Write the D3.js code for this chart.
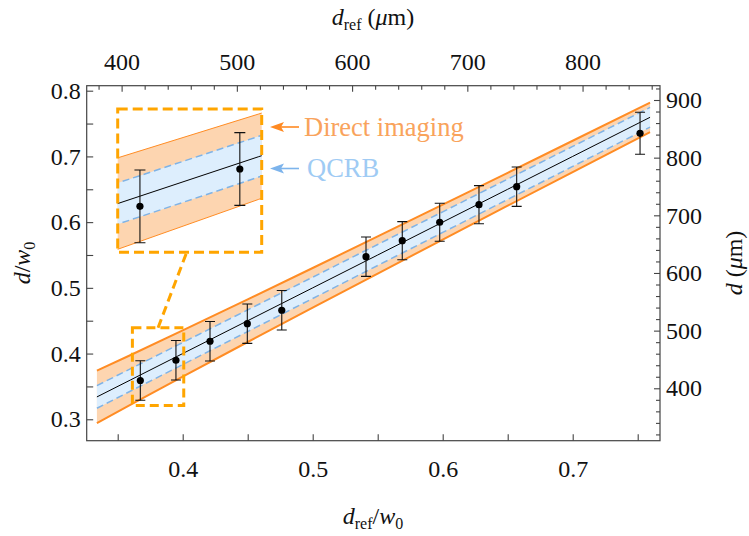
<!DOCTYPE html>
<html><head><meta charset="utf-8">
<script src="https://cdn.jsdelivr.net/npm/d3@7/dist/d3.min.js"></script>
<style>
body{margin:0;background:#fff}
svg{display:block}
svg text{font-family:'Liberation Serif','DejaVu Serif','Noto Serif',serif;fill:#111}
</style>
</head><body>
<svg id="c" width="749" height="536"></svg>
<script>
// ---- data ----
const dRefOverW0 = [0.3674, 0.3948, 0.4210, 0.4497, 0.4762, 0.5410, 0.5689, 0.5977, 0.6279, 0.6569, 0.7518];
const dOverW0    = [0.3590, 0.3898, 0.4187, 0.4455, 0.4659, 0.5474, 0.5718, 0.5998, 0.6265, 0.6539, 0.7352];
const errD       = [0.030, 0.030, 0.030, 0.030, 0.030, 0.030, 0.029, 0.029, 0.029, 0.030, 0.032];

const bandX      = [0.334, 0.36, 0.40, 0.45, 0.50, 0.55, 0.60, 0.65, 0.70, 0.7595];
const directHalf = [0.040, 0.0378, 0.0352, 0.0324, 0.0302, 0.0283, 0.0265, 0.0250, 0.0238, 0.0224];
const qcrbHalf   = [0.0172, 0.0170, 0.0168, 0.0165, 0.0162, 0.0160, 0.0157, 0.0155, 0.0152, 0.0150];

const bottomTicks = [0.35, 0.4, 0.45, 0.5, 0.55, 0.6, 0.65, 0.7, 0.75];
const bottomLabels = [0.4, 0.5, 0.6, 0.7];
const leftTicks = [0.3, 0.35, 0.4, 0.45, 0.5, 0.55, 0.6, 0.65, 0.7, 0.75, 0.8];
const leftLabels = [0.3, 0.4, 0.5, 0.6, 0.7, 0.8];
const topLabels = [400, 500, 600, 700, 800];
const rightLabels = [400, 500, 600, 700, 800, 900];
const insetXRange = [0.3613, 0.4008];
const insetYRange = [0.3211, 0.4393];
const legendNames = ["Direct imaging", "QCRB"];

// ---- layout ----
const FONT = "'Liberation Serif','DejaVu Serif','Noto Serif',serif";
const L = 86.7, R = 660, T = 85.7, B = 440.7;
const svg = d3.select("#c");
const x = d3.scaleLinear().domain([0.32615, 0.76715]).range([L, R]);
const y = d3.scaleLinear().domain([0.2674, 0.8076]).range([B, T]);
const xTop = d3.scaleLinear().domain([369.7, 867.2]).range([L, R]);
const yRight = d3.scaleLinear().domain([309.1, 924.8]).range([B, T]);

const ORANGE_EDGE = "#ff8c24", ORANGE_FILL = "#fdd5b0";
const BLUE_FILL = "#ddeefd", BLUE_LINE = "#7fb3e6";
const BOX = "#ffa500";

const band = bandX.map((bx, i) => ({x: bx, dh: directHalf[i], qh: qcrbHalf[i]}));
const pts = dRefOverW0.map((v, i) => ({x: v, y: dOverW0[i], e: errD[i]}));

const defs = svg.append("defs");
defs.append("clipPath").attr("id", "clipMain").append("rect")
  .attr("x", L).attr("y", T).attr("width", R - L).attr("height", B - T);

function drawPanel(g, sx, sy, edgeW, capHalf, rad) {
  g.append("path").datum(band)
    .attr("d", d3.area().x(d => sx(d.x)).y0(d => sy(d.x - d.dh)).y1(d => sy(d.x + d.dh)))
    .attr("fill", ORANGE_FILL);
  g.append("path").datum(band)
    .attr("d", d3.area().x(d => sx(d.x)).y0(d => sy(d.x - d.qh)).y1(d => sy(d.x + d.qh)))
    .attr("fill", BLUE_FILL);
  [1, -1].forEach(s => {
    g.append("path").datum(band)
      .attr("d", d3.line().x(d => sx(d.x)).y(d => sy(d.x + s * d.dh)))
      .attr("fill", "none").attr("stroke", ORANGE_EDGE).attr("stroke-width", edgeW);
    g.append("path").datum(band)
      .attr("d", d3.line().x(d => sx(d.x)).y(d => sy(d.x + s * d.qh)))
      .attr("fill", "none").attr("stroke", BLUE_LINE).attr("stroke-width", 1.5)
      .attr("stroke-dasharray", "7,4");
  });
  g.append("path").datum(band)
    .attr("d", d3.line().x(d => sx(d.x)).y(d => sy(d.x)))
    .attr("fill", "none").attr("stroke", "#000").attr("stroke-width", 1);
  const eb = g.append("g").attr("stroke", "#111").attr("stroke-width", 1.1);
  pts.forEach(p => {
    const cx = sx(p.x);
    eb.append("line").attr("x1", cx).attr("x2", cx).attr("y1", sy(p.y - p.e)).attr("y2", sy(p.y + p.e));
    eb.append("line").attr("x1", cx - capHalf).attr("x2", cx + capHalf).attr("y1", sy(p.y + p.e)).attr("y2", sy(p.y + p.e));
    eb.append("line").attr("x1", cx - capHalf).attr("x2", cx + capHalf).attr("y1", sy(p.y - p.e)).attr("y2", sy(p.y - p.e));
  });
  g.selectAll("circle.pt").data(pts).enter().append("circle")
    .attr("cx", d => sx(d.x)).attr("cy", d => sy(d.y)).attr("r", rad).attr("fill", "#000");
}

// main panel
drawPanel(svg.append("g").attr("clip-path", "url(#clipMain)"), x, y, 2, 5, 3.6);

// ---- axes ----
const FS = 24;
function styleAxis(g) {
  g.attr("font-family", FONT).attr("font-size", FS);
  g.select(".domain").remove();
  g.selectAll(".tick line").attr("stroke", "#444").attr("stroke-width", 1.1);
  g.selectAll(".tick text").attr("font-size", FS).attr("fill", "#111").attr("font-family", FONT);
}
const fmt1 = d => bottomLabels.some(v => Math.abs(v - d) < 1e-9) ? d3.format(".1f")(d) : "";
const gB = svg.append("g").attr("transform", `translate(0,${B})`)
  .call(d3.axisBottom(x).tickValues(bottomTicks).tickSize(-6.5).tickPadding(19).tickFormat(fmt1));
styleAxis(gB);
const gL = svg.append("g").attr("transform", `translate(${L},0)`)
  .call(d3.axisLeft(y).tickValues(leftTicks).tickSize(-6.5).tickPadding(6)
    .tickFormat(d => leftLabels.some(v => Math.abs(v - d) < 1e-9) ? d3.format(".1f")(d) : ""));
styleAxis(gL);

const topMinor = d3.range(380, 861, 20).filter(v => v % 100 !== 0);
const gTm = svg.append("g").attr("transform", `translate(0,${T})`)
  .call(d3.axisTop(xTop).tickValues(topMinor).tickSize(-4).tickFormat(""));
styleAxis(gTm);
const gT = svg.append("g").attr("transform", `translate(0,${T})`)
  .call(d3.axisTop(xTop).tickValues(topLabels).tickSize(-6).tickPadding(16).tickFormat(d3.format("d")));
styleAxis(gT);

const rightMinor = d3.range(320, 921, 20).filter(v => v % 100 !== 0);
const gRm = svg.append("g").attr("transform", `translate(${R},0)`)
  .call(d3.axisRight(yRight).tickValues(rightMinor).tickSize(-4).tickFormat(""));
styleAxis(gRm);
const gR = svg.append("g").attr("transform", `translate(${R},0)`)
  .call(d3.axisRight(yRight).tickValues(rightLabels).tickSize(-6).tickPadding(6).tickFormat(d3.format("d")));
styleAxis(gR);

svg.append("rect").attr("x", L).attr("y", T).attr("width", R - L).attr("height", B - T)
  .attr("fill", "none").attr("stroke", "#444").attr("stroke-width", 1.2);

// ---- axis titles ----
function subLabel(sel, parts) {
  sel.attr("font-family", FONT);
  parts.forEach(p => {
    const t = sel.append("tspan").text(p.t);
    if (p.i) t.attr("font-style", "italic");
    if (p.sub) t.attr("font-size", 16).attr("dy", p.dy);
    else if (p.dy) t.attr("dy", p.dy);
  });
}
subLabel(svg.append("text").attr("x", 373).attr("y", 524).attr("text-anchor", "middle").attr("font-size", FS),
  [{t: "d", i: true}, {t: "ref", sub: true, dy: 5}, {t: "/", dy: -5}, {t: "w", i: true}, {t: "0", sub: true, dy: 5}]);
subLabel(svg.append("text").attr("x", 373).attr("y", 25).attr("text-anchor", "middle").attr("font-size", FS),
  [{t: "d", i: true}, {t: "ref", sub: true, dy: 5}, {t: " (", dy: -5}, {t: "μ", i: true}, {t: "m)"}]);
subLabel(svg.append("text").attr("transform", "translate(30,263) rotate(-90)").attr("text-anchor", "middle").attr("font-size", FS),
  [{t: "d", i: true}, {t: "/"}, {t: "w", i: true}, {t: "0", sub: true, dy: 5}]);
subLabel(svg.append("text").attr("transform", "translate(742,263) rotate(-90)").attr("text-anchor", "middle").attr("font-size", FS),
  [{t: "d", i: true}, {t: " ("}, {t: "μ", i: true}, {t: "m)"}]);

// ---- inset ----
const IX0 = 117.7, IX1 = 261.7, IY0 = 109, IY1 = 252.3;
const xi = d3.scaleLinear().domain(insetXRange).range([IX0, IX1]);
const yi = d3.scaleLinear().domain(insetYRange).range([IY1, IY0]);
defs.append("clipPath").attr("id", "clipInset").append("rect")
  .attr("x", IX0).attr("y", IY0).attr("width", IX1 - IX0).attr("height", IY1 - IY0);
drawPanel(svg.append("g").attr("clip-path", "url(#clipInset)"), xi, yi, 1, 5.5, 3.6);

// zoom box on main plot
const bx0 = x(insetXRange[0]), bx1 = x(insetXRange[1]), by0 = y(insetYRange[1]), by1 = y(insetYRange[0]);
svg.append("rect").attr("x", bx0).attr("y", by0).attr("width", bx1 - bx0).attr("height", by1 - by0)
  .attr("fill", "none").attr("stroke", BOX).attr("stroke-width", 3).attr("stroke-dasharray", "9,5");
svg.append("line").attr("x1", (bx0 + bx1) / 2).attr("y1", by0).attr("x2", (IX0 + IX1) / 2 - 3).attr("y2", IY1)
  .attr("stroke", BOX).attr("stroke-width", 3).attr("stroke-dasharray", "9,5");
svg.append("rect").attr("x", IX0).attr("y", IY0).attr("width", IX1 - IX0).attr("height", IY1 - IY0)
  .attr("fill", "none").attr("stroke", BOX).attr("stroke-width", 3).attr("stroke-dasharray", "10,5");

// ---- annotations ----
function arrow(yy, col) {
  svg.append("line").attr("x1", 299).attr("x2", 280).attr("y1", yy).attr("y2", yy)
    .attr("stroke", col).attr("stroke-width", 1.6);
  svg.append("path").attr("d", `M270,${yy} L284,${yy - 5} L281,${yy} L284,${yy + 5} Z`).attr("fill", col);
}
arrow(127, "#ff8a22");
arrow(168.5, "#7db4ec");
svg.append("text").attr("x", 304).attr("y", 136).attr("font-size", 26.5).attr("font-family", FONT)
  .style("fill", "#f9a35c").text(legendNames[0]);
svg.append("text").attr("x", 307).attr("y", 177).attr("font-size", 26.5).attr("font-family", FONT)
  .style("fill", "#9fcbf4").text(legendNames[1]);
</script>
</body></html>
